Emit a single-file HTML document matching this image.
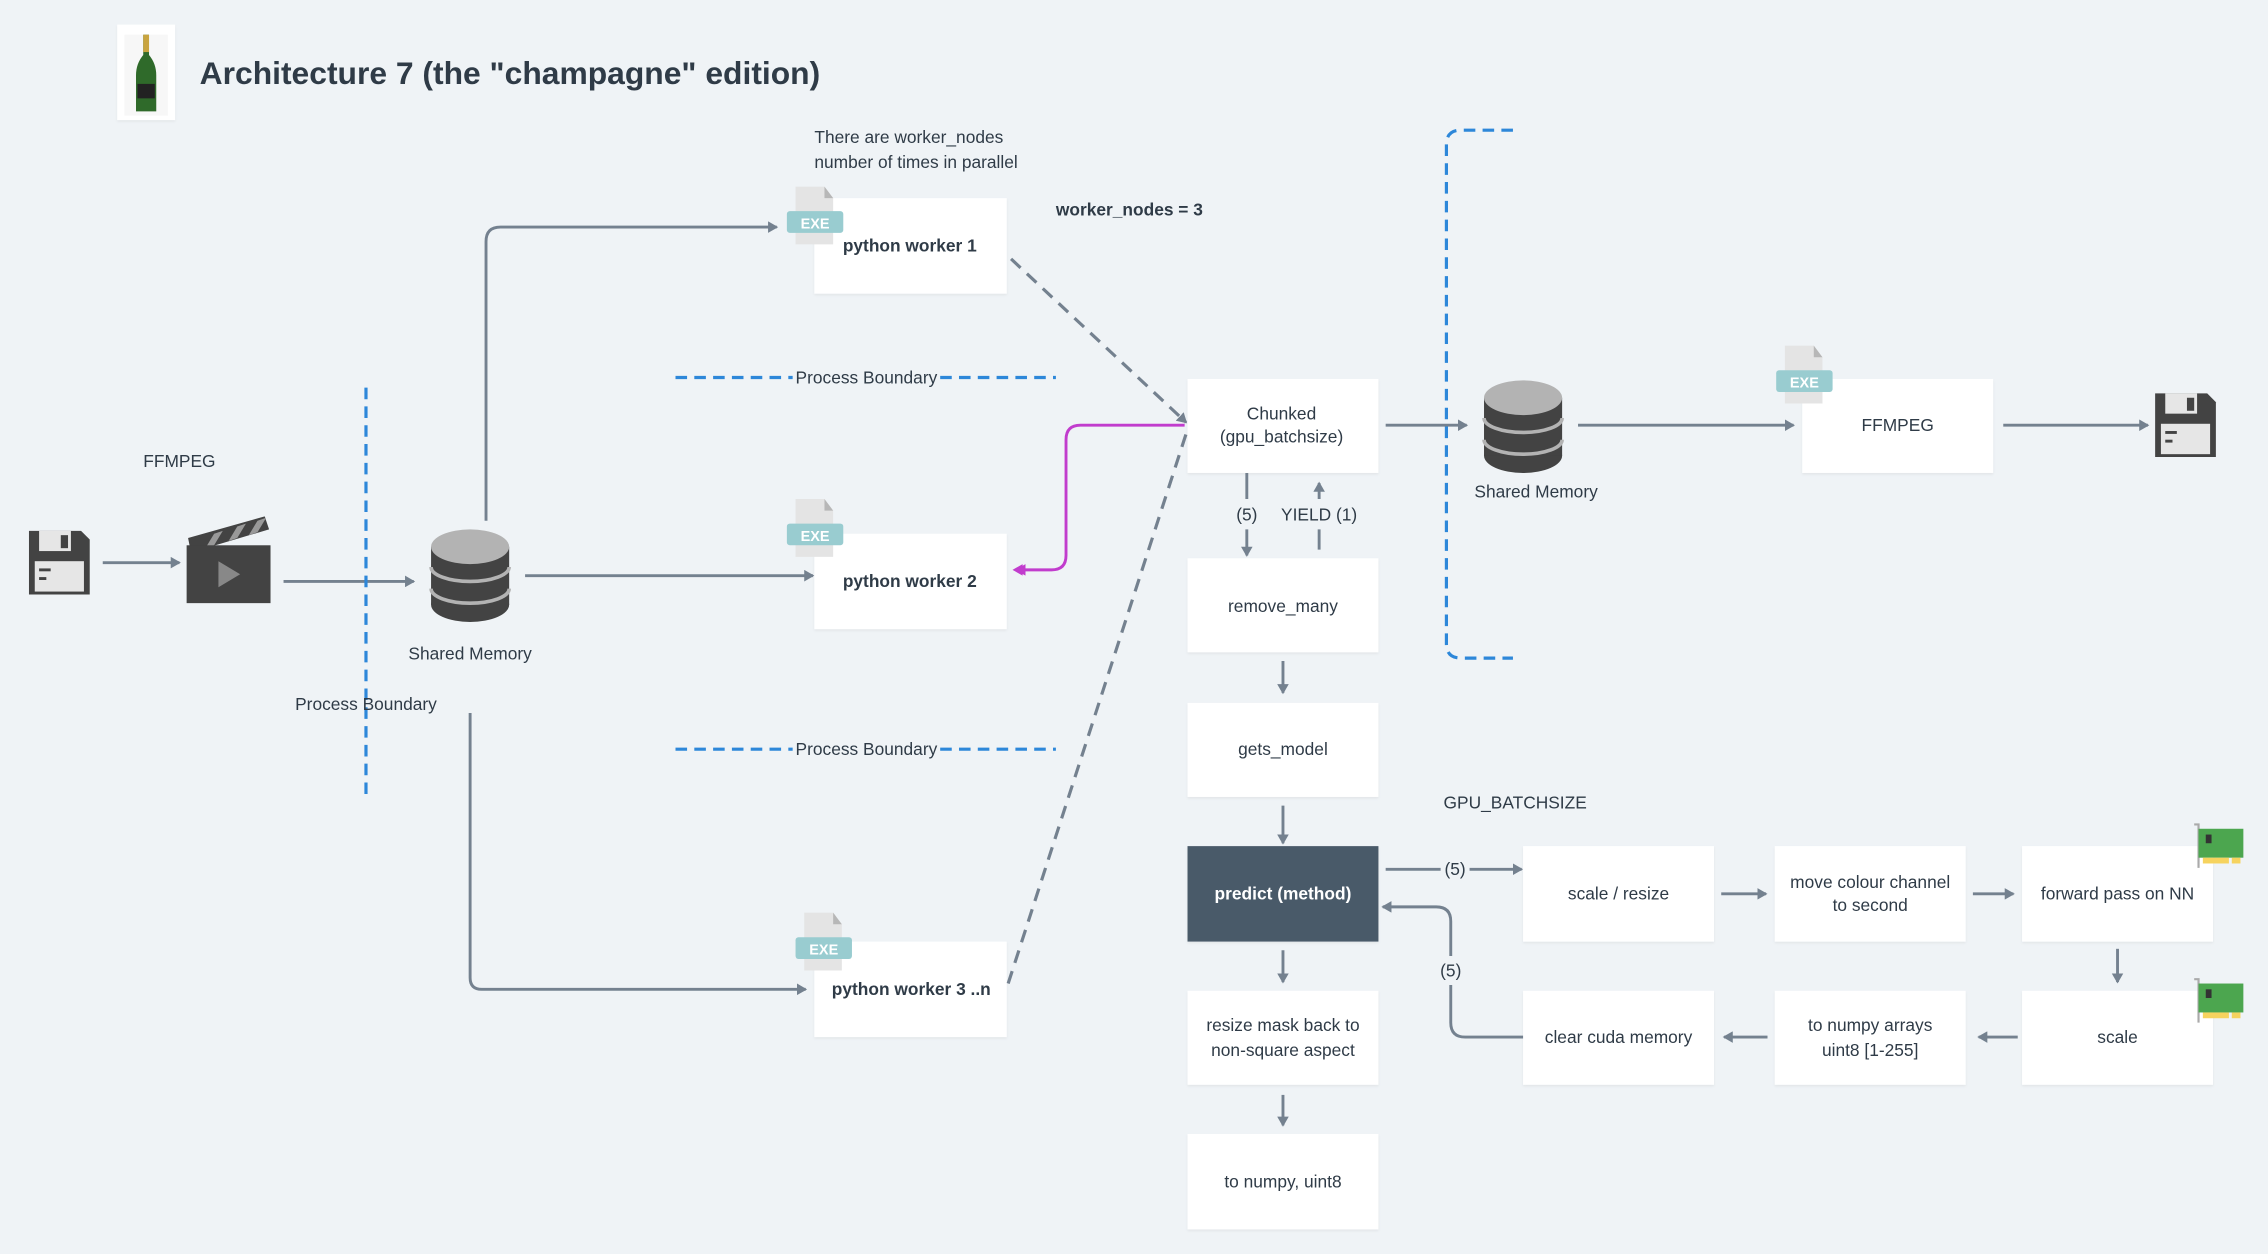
<!DOCTYPE html>
<html><head><meta charset="utf-8"><style>
html,body{margin:0;padding:0;background:#eff3f6;}
svg{display:block}
text{font-family:"Liberation Sans Narrow","Liberation Sans",sans-serif;fill:#2f3b47;font-size:12px}
.c{text-anchor:middle}
.b{font-weight:bold}
.ln{stroke:#74818f;stroke-width:2;fill:none}
.bx{fill:#fff}
.pb{stroke:#2d87d9;stroke-width:2.2;stroke-dasharray:8 5;fill:none}
</style></head><body>
<svg width="2268" height="1254" viewBox="0 0 1568 867" xmlns="http://www.w3.org/2000/svg">
<defs>
<marker id="a" markerWidth="8" markerHeight="8" refX="6" refY="4" orient="auto" markerUnits="userSpaceOnUse"><path d="M0,0 L7,4 L0,8 Z" fill="#74818f"/></marker>
<marker id="m" markerWidth="8" markerHeight="8" refX="1" refY="4" orient="auto" markerUnits="userSpaceOnUse"><path d="M8,0 L1,4 L8,8 Z" fill="#c13ccd"/></marker>
<marker id="m2" markerWidth="8" markerHeight="8" refX="6" refY="4" orient="auto" markerUnits="userSpaceOnUse"><path d="M0,0 L7,4 L0,8 Z" fill="#c13ccd"/></marker>
<filter id="s" x="-10%" y="-10%" width="120%" height="130%"><feDropShadow dx="0" dy="1" stdDeviation="1" flood-color="#000" flood-opacity="0.06"/></filter>
<g id="db"><ellipse cx="27" cy="52" rx="27" ry="12" fill="#434343"/><rect x="0" y="12" width="54" height="40" fill="#434343"/><path d="M0,26 a27,10 0 0 0 54,0 M0,41 a27,10 0 0 0 54,0" stroke="#b3b3b3" stroke-width="2.5" fill="none"/><ellipse cx="27" cy="12" rx="27" ry="12" fill="#b3b3b3"/></g>
<g id="exe"><path d="M6,0 H26 L32,8 V40 H6 Z" fill="#e4e4e4"/><path d="M26,0 L32,8 H26 Z" fill="#b7b7b7"/><rect x="0" y="17" width="39" height="15" rx="2" fill="#99ccd0"/><text x="19.5" y="29" class="c b" style="fill:#fff;font-size:10px">EXE</text></g>
<g id="fl"><path d="M0,0 H36 L42,6 V44 H0 Z" fill="#434343"/><rect x="7" y="0" width="22" height="14" fill="#e6e6e6"/><rect x="22" y="3" width="5" height="9" fill="#434343"/><rect x="4" y="21" width="34" height="21" fill="#e6e6e6"/><rect x="7" y="26" width="8" height="2" fill="#434343"/><rect x="7" y="32" width="5" height="2" fill="#434343"/></g>
<g id="gpu"><path d="M0,0 H3 V30" stroke="#aaa" stroke-width="1.5" fill="none"/><rect x="3" y="3" width="31" height="20" fill="#4ca64f"/><rect x="8" y="7" width="4" height="6" fill="#333"/><rect x="6" y="23" width="18" height="4" fill="#f6d35e"/><rect x="26" y="23" width="6" height="4" fill="#f6d35e"/></g>
</defs>
<rect width="1568" height="867" fill="#eff3f6"/>
<!-- title -->
<rect x="81" y="17" width="40" height="66" fill="#fff" filter="url(#s)"/>
<rect x="86" y="24" width="30" height="56" fill="#f7f7f7"/>
<path d="M99,24 h4 v14 q5,6 5,14 v25 h-14 v-25 q0,-8 5,-14 z" fill="#2f6a2a"/>
<rect x="99" y="24" width="4" height="12" fill="#c9a43f"/>
<rect x="95" y="58" width="12" height="10" fill="#222"/>
<text x="138" y="58" class="b" style="font-size:22px">Architecture 7 (the "champagne" edition)</text>
<!-- left -->
<use href="#fl" x="20" y="367"/>
<path class="ln" d="M71,389 H124" marker-end="url(#a)"/>
<g><path d="M130,372 L183,357 L186,366 L132,382 Z" fill="#434343"/><path d="M142,379 l6,-10 6,-2 -6,10z M158,374 l6,-10 6,-2 -6,10z M172,370 l6,-10 6,-2 -6,10z" fill="#999"/><rect x="129" y="377" width="58" height="40" fill="#434343"/><path d="M151,388 L166,397 L151,406 Z" fill="#888"/></g>
<text x="124" y="323" class="c">FFMPEG</text>
<path class="ln" d="M196,402 H286" marker-end="url(#a)"/>
<path class="pb" d="M253,268 V550"/>
<text x="253" y="491" class="c">Process Boundary</text>
<use href="#db" x="298" y="366"/>
<text x="325" y="456" class="c">Shared Memory</text>
<path class="ln" d="M336,360 V167 q0,-10 10,-10 H537" marker-end="url(#a)"/>
<path class="ln" d="M363,398 H562" marker-end="url(#a)"/>
<path class="ln" d="M325,493 V676 q0,8 8,8 H557" marker-end="url(#a)"/>
<!-- workers -->
<rect class="bx" x="563" y="137" width="133" height="66" filter="url(#s)"/>
<rect class="bx" x="563" y="369" width="133" height="66" filter="url(#s)"/>
<rect class="bx" x="563" y="651" width="133" height="66" filter="url(#s)"/>
<use href="#exe" x="544" y="129"/>
<use href="#exe" x="544" y="345"/>
<use href="#exe" x="550" y="631"/>
<text x="629" y="174" class="c b">python worker 1</text>
<text x="629" y="406" class="c b">python worker 2</text>
<text x="630" y="688" class="c b">python worker 3 ..n</text>
<text x="563" y="99">There are worker_nodes</text>
<text x="563" y="116">number of times in parallel</text>
<text x="730" y="149" class="b">worker_nodes = 3</text>
<path class="pb" d="M467,261 H548 M650,261 H730"/>
<text x="599" y="265" class="c">Process Boundary</text>
<path class="pb" d="M467,518 H548 M650,518 H730"/>
<text x="599" y="522" class="c">Process Boundary</text>
<path d="M699,179 L820,292" stroke="#74818f" stroke-width="2.2" stroke-dasharray="9 6" fill="none" marker-end="url(#a)"/>
<path d="M697,680 L820,300" stroke="#74818f" stroke-width="2.2" stroke-dasharray="9 6" fill="none"/>
<path d="M819,294 H747 q-10,0 -10,10 V384 q0,10 -10,10 H703" stroke="#c13ccd" stroke-width="2" fill="none" marker-end="url(#m2)"/>
<path d="M700,394 l7,-4 v8 z" fill="#c13ccd"/>
<!-- center column -->
<rect class="bx" x="821" y="262" width="132" height="65" filter="url(#s)"/>
<text x="886" y="290" class="c">Chunked</text>
<text x="886" y="306" class="c">(gpu_batchsize)</text>
<path class="ln" d="M862,327 V345 M862,366 V384" marker-end="url(#a)"/>
<text x="862" y="360" class="c">(5)</text>
<path class="ln" d="M912,380 V366 M912,345 V334" marker-end="url(#a)"/>
<text x="912" y="360" class="c">YIELD (1)</text>
<rect class="bx" x="821" y="386" width="132" height="65" filter="url(#s)"/>
<text x="887" y="423" class="c">remove_many</text>
<path class="ln" d="M887,457 V479" marker-end="url(#a)"/>
<rect class="bx" x="821" y="486" width="132" height="65" filter="url(#s)"/>
<text x="887" y="522" class="c">gets_model</text>
<path class="ln" d="M887,557 V583" marker-end="url(#a)"/>
<rect x="821" y="585" width="132" height="66" fill="#4a5a69" filter="url(#s)"/>
<text x="887" y="622" class="c b" style="fill:#fff">predict (method)</text>
<path class="ln" d="M887,657 V679" marker-end="url(#a)"/>
<rect class="bx" x="821" y="685" width="132" height="65" filter="url(#s)"/>
<text x="887" y="713" class="c">resize mask back to</text>
<text x="887" y="730" class="c">non-square aspect</text>
<path class="ln" d="M887,757 V778" marker-end="url(#a)"/>
<rect class="bx" x="821" y="784" width="132" height="66" filter="url(#s)"/>
<text x="887" y="821" class="c">to numpy, uint8</text>
<!-- right upper -->
<path class="ln" d="M958,294 H1014" marker-end="url(#a)"/>
<path class="pb" d="M1046,90 H1010 q-10,0 -10,10 V445 q0,10 10,10 H1046"/>
<use href="#db" x="1026" y="263"/>
<text x="1062" y="344" class="c">Shared Memory</text>
<path class="ln" d="M1091,294 H1240" marker-end="url(#a)"/>
<rect class="bx" x="1246" y="262" width="132" height="65" filter="url(#s)"/>
<use href="#exe" x="1228" y="239"/>
<text x="1312" y="298" class="c">FFMPEG</text>
<path class="ln" d="M1385,294 H1485" marker-end="url(#a)"/>
<use href="#fl" x="1490" y="272"/>
<!-- gpu section -->
<text x="998" y="559">GPU_BATCHSIZE</text>
<path class="ln" d="M958,601 H996 M1016,601 H1052" marker-end="url(#a)"/>
<text x="1006" y="605" class="c">(5)</text>
<rect class="bx" x="1053" y="585" width="132" height="66" filter="url(#s)"/>
<text x="1119" y="622" class="c">scale / resize</text>
<path class="ln" d="M1190,618 H1221" marker-end="url(#a)"/>
<rect class="bx" x="1227" y="585" width="132" height="66" filter="url(#s)"/>
<text x="1293" y="614" class="c">move colour channel</text>
<text x="1293" y="630" class="c">to second</text>
<path class="ln" d="M1364,618 H1392" marker-end="url(#a)"/>
<rect class="bx" x="1398" y="585" width="132" height="66" filter="url(#s)"/>
<text x="1464" y="622" class="c">forward pass on NN</text>
<use href="#gpu" x="1517" y="570"/>
<path class="ln" d="M1464,656 V679" marker-end="url(#a)"/>
<rect class="bx" x="1398" y="685" width="132" height="65" filter="url(#s)"/>
<text x="1464" y="721" class="c">scale</text>
<use href="#gpu" x="1517" y="677"/>
<path class="ln" d="M1395,717 H1368" marker-end="url(#a)"/>
<rect class="bx" x="1227" y="685" width="132" height="65" filter="url(#s)"/>
<text x="1293" y="713" class="c">to numpy arrays</text>
<text x="1293" y="730" class="c">uint8 [1-255]</text>
<path class="ln" d="M1222,717 H1192" marker-end="url(#a)"/>
<rect class="bx" x="1053" y="685" width="132" height="65" filter="url(#s)"/>
<text x="1119" y="721" class="c">clear cuda memory</text>
<path class="ln" d="M1053,717 H1013 q-10,0 -10,-10 V681 M1003,661 V637 q0,-10 -10,-10 H956" marker-end="url(#a)"/>
<text x="1003" y="675" class="c">(5)</text>
</svg>
</body></html>
